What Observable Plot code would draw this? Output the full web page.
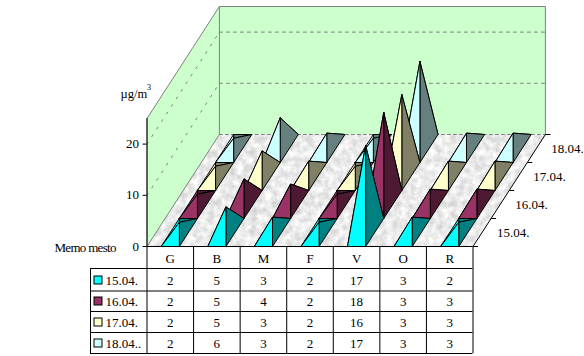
<!DOCTYPE html>
<html>
<head>
<meta charset="utf-8">
<script src="https://cdn.jsdelivr.net/npm/d3@7"></script>
<script src="https://cdn.jsdelivr.net/npm/@observablehq/plot@0.6"></script>
<style>html,body{margin:0;padding:0;background:#fff}</style>
</head>
<body>
<div id="chart"></div>
<script>
const categories = ["G","B","M","F","V","O","R"];
const dates = ["15.04.","16.04.","17.04.","18.04."];
const legendLabels = ["15.04.","16.04.","17.04.","18.04.."];
const d15 = [2,5,3,2,17,3,2];
const d16 = [2,5,4,2,18,3,3];
const d17 = [2,5,3,2,16,3,3];
const d18 = [2,6,3,2,17,3,3];
const series = [d15,d16,d17,d18];
const lightColors = ["#00FFFF","#993366","#FFFFCC","#CCFFFF"];
const darkColors  = ["#008080","#4D1933","#808066","#668080"];
const axisTicks = [0,10,20];
const axisMax = 25;

// layout of the oblique projection, all in scale units
const left = 146.5, right = 472.5, base = 246, top_ = 118;
const catPx = (right-left)/categories.length;
const valPx = (base-top_)/axisMax;
const shearX = 18.1/catPx, shearY = 28/valPx, half = 0.195;
const P = (c,d,v) => ({x:c+d*shearX, y:v+d*shearY});
const px = p => (p-left)/catPx;
const py = p => (base-p)/valPx;
const nD = series.length, nC = categories.length;

function poly(id, pts, fill){ return [...pts, pts[0]].map(p=>({...p,id,fill})); }

// pyramids, back row first
const faces = [];
for (let s=nD-1; s>=0; s--) {
  series[s].forEach((v,c)=>{
    const a=c+.5-half, b=c+.5+half;
    const FL=P(a,s,0), FR=P(b,s,0), BR=P(b,s+1,0), BL=P(a,s+1,0), T=P(c+.5,s+.5,v);
    const k=`${s}-${c}-`;
    faces.push(...poly(k+"b",[BL,BR,T],darkColors[s]));
    faces.push(...poly(k+"l",[FL,BL,T],lightColors[s]));
    faces.push(...poly(k+"r",[FR,BR,T],darkColors[s]));
    faces.push(...poly(k+"f",[FL,FR,T],lightColors[s]));
  });
}
const leftWall = poly("lw",[P(0,0,0),P(0,0,axisMax),P(0,nD,axisMax),P(0,nD,0)],"#CCFFCC");
const backWall = poly("bw",[P(0,nD,0),P(0,nD,axisMax),P(nC,nD,axisMax),P(nC,nD,0)],"#CCFFCC");
const floor = poly("fl",[P(0,0,0),P(nC,0,0),P(nC,nD,0),P(0,nD,0)],"#E8E8E8");
const gridTicks = axisTicks.filter(t=>t>0);
const gridLeft = gridTicks.flatMap(t=>[{id:"l"+t,...P(0,0,t)},{id:"l"+t,...P(0,nD,t)}]);
const gridBack = gridTicks.flatMap(t=>[{id:"b"+t,...P(0,nD,t)},{id:"b"+t,...P(nC,nD,t)}]);
const wallEdges = [P(0,nD,0),P(0,nD,axisMax),P(nC,nD,axisMax),P(nC,nD,0)];
const leftEdge = [P(0,0,0),P(0,0,axisMax),P(0,nD,axisMax)];
const floorSide = [P(0,0,0),P(0,nD,0)];
const backEdge = [P(0,nD,0),P(nC,nD,0)];

// data table
const rowEdges = [268,290.5,311,332,353];
const rowText = [280,301,322,343];
const tableCols = d3.range(nC+1);
const cells = series.flatMap((r,s)=>r.map((v,c)=>({c:c+.5,y:py(rowText[s]),v:String(v)})));
const font = {fontFamily:"Liberation Serif", fontSize:13, fill:"#000"};

const chart = Plot.plot({
  width:584, height:356,
  marginLeft:left, marginRight:584-right, marginTop:top_, marginBottom:356-base,
  x:{domain:[0,nC], axis:null},
  y:{domain:[0,axisMax], axis:null},
  style:{background:"#fff", overflow:"visible"},
  marks:[
    Plot.line(leftWall,{x:"x",y:"y",z:"id",fill:"#CCFFCC",stroke:"none"}),
    Plot.line(backWall,{x:"x",y:"y",z:"id",fill:"#CCFFCC",stroke:"none"}),
    Plot.line(gridLeft,{x:"x",y:"y",z:"id",stroke:"#808080",strokeWidth:1,strokeDasharray:"2,7"}),
    Plot.line(gridBack,{x:"x",y:"y",z:"id",stroke:"#808080",strokeWidth:1,strokeDasharray:"3,4"}),
    Plot.line(floor,{x:"x",y:"y",z:"id",fill:"#E8E8E8",stroke:"none"}),
    Plot.line(wallEdges,{x:"x",y:"y",stroke:"#808080",strokeWidth:1}),
    Plot.line(leftEdge,{x:"x",y:"y",stroke:"#808080",strokeWidth:1}),
    Plot.line(floorSide,{x:"x",y:"y",stroke:"#808080",strokeWidth:1}),
    Plot.line(backEdge,{x:"x",y:"y",stroke:"#808080",strokeWidth:1,strokeDasharray:"3,3"}),
    Plot.ruleX([0],{y1:0,y2:axisMax,stroke:"#000"}),
    Plot.axisY({ticks:axisTicks,tickSize:4,tickPadding:4,label:null,fontFamily:"Liberation Serif",fontSize:13,stroke:"#000",color:"#000"}),
    Plot.line(faces,{x:"x",y:"y",z:"id",fill:{value:d=>d.fill,scale:null},stroke:"#000",strokeWidth:1,strokeLinejoin:"miter",strokeMiterlimit:10}),
    // floor front and right edges with depth ticks
    Plot.link([{}],{x1:()=>P(nC,0,0).x,y1:()=>P(nC,0,0).y,x2:()=>P(nC,nD,0).x,y2:()=>P(nC,nD,0).y,stroke:"#000"}),
    Plot.link(d3.range(nD+1),{x1:d=>P(nC,d,0).x,y1:d=>P(nC,d,0).y,x2:d=>P(nC,d,0).x+5/catPx,y2:d=>P(nC,d,0).y,stroke:"#000"}),
    Plot.text(dates,{x:(d,i)=>P(nC,i+.5,0).x,y:(d,i)=>P(nC,i+.5,0).y,text:d=>d,dx:15,textAnchor:"start",...font}),
    // table grid
    Plot.ruleY([0],{x1:0,x2:nC,stroke:"#000"}),
    Plot.ruleX(tableCols,{y1:0,y2:py(rowEdges[rowEdges.length-1]),stroke:"#000"}),
    Plot.ruleY(rowEdges.map(py),{x1:px(90),x2:nC,stroke:"#000"}),
    Plot.ruleX([px(90)],{y1:py(rowEdges[0]),y2:py(rowEdges[rowEdges.length-1]),stroke:"#000"}),
    Plot.text(categories,{x:(d,i)=>i+.5,y:py(258),text:d=>d,...font}),
    Plot.text(cells,{x:"c",y:"y",text:"v",...font}),
    // legend keys in the table
    Plot.rect(lightColors,{x1:px(94),x2:px(102),y1:(d,i)=>py(rowText[i]-4),y2:(d,i)=>py(rowText[i]+4),fill:d=>d,stroke:"#000"}),
    Plot.text(legendLabels,{x:px(105),y:(d,i)=>py(rowText[i]),text:d=>d,textAnchor:"start",...font}),
    Plot.text(["Merno mesto"],{x:px(54),y:py(247),text:d=>d,textAnchor:"start",...font}),
    Plot.text(["µg/m"],{x:px(120),y:py(93),text:d=>d,textAnchor:"start",...font,fontSize:12.5}),
    Plot.text(["3"],{x:px(146.5),y:py(87),text:d=>d,textAnchor:"start",...font,fontSize:8})
  ]
});

// marble texture on the floor
const ns = "http://www.w3.org/2000/svg";
const defs = document.createElementNS(ns,"defs");
defs.innerHTML = `<filter id="marble" filterUnits="userSpaceOnUse" x="0" y="0" width="584" height="356" color-interpolation-filters="sRGB">
  <feTurbulence type="fractalNoise" baseFrequency="0.14" numOctaves="3" seed="4" result="n"/>
  <feColorMatrix in="n" type="matrix" values="0.3 0 0 0 0.77  0.3 0 0 0 0.77  0.3 0 0 0 0.77  0 0 0 0 1" result="s"/>
  <feComposite in="s" in2="SourceAlpha" operator="in"/>
  </filter>`;
chart.insertBefore(defs, chart.firstChild);
const fl = [...chart.querySelectorAll("g, path")].find(e => (e.getAttribute("fill")||"").toUpperCase()==="#E8E8E8");
if (fl) fl.setAttribute("filter","url(#marble)");
const mm = [...chart.querySelectorAll("text")].find(t => t.textContent==="Merno mesto");
if (mm) mm.style.letterSpacing = "-0.7px";
document.getElementById("chart").appendChild(chart);
</script>
</body>
</html>
